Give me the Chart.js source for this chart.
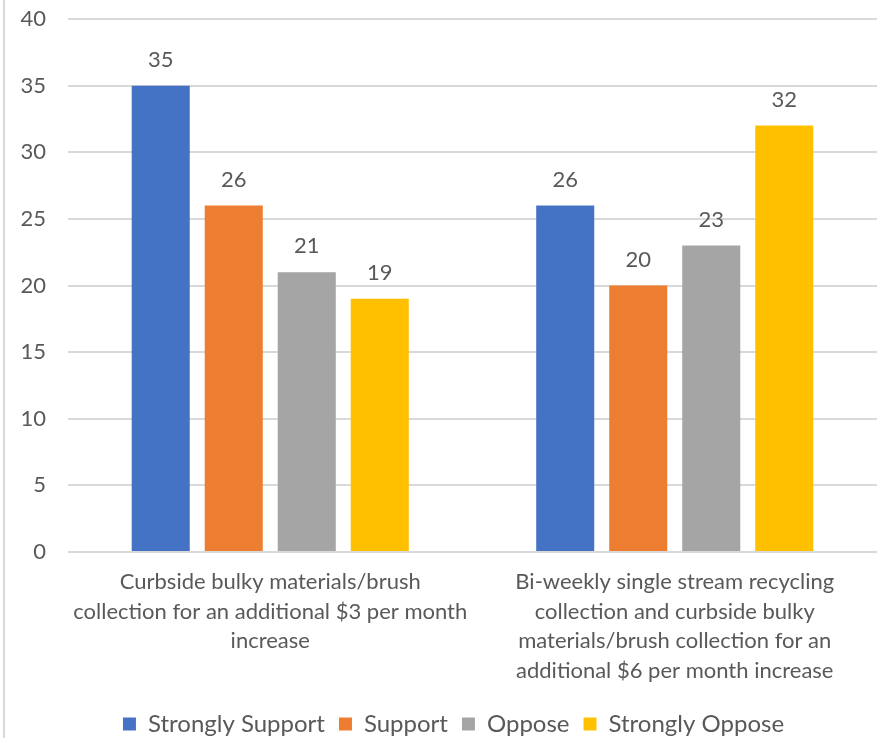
<!DOCTYPE html>
<html>
<head>
<meta charset="utf-8">
<script src="https://cdn.jsdelivr.net/npm/chart.js@4"></script>
<style>
  html, body { margin: 0; padding: 0; background: #ffffff; }
  #wrap { width: 882px; height: 738px; position: relative; }
</style>
</head>
<body>
<div id="wrap"><canvas id="chart" width="882" height="738"></canvas></div>
<script>
// Survey responses for two proposed service options
const categories = [
  ["Curbside bulky materials/brush", "collection for an additional $3 per month", "increase"],
  ["Bi-weekly single stream recycling", "collection and curbside bulky", "materials/brush collection for an", "additional $6 per month increase"]
];
const seriesNames = ["Strongly Support", "Support", "Oppose", "Strongly Oppose"];
const stronglySupport = [35, 26];
const support = [26, 20];
const oppose = [21, 23];
const stronglyOppose = [19, 32];
const yTicks = [0, 5, 10, 15, 20, 25, 30, 35, 40];

const colors = ["#4472C4", "#ED7D31", "#A5A5A5", "#FFC000"];
const seriesValues = [stronglySupport, support, oppose, stronglyOppose];
const FONT = "Lato, 'Open Sans', sans-serif";
const TEXT = "#595959";

// Value labels above each bar
const barValueLabels = {
  id: "barValueLabels",
  afterDatasetsDraw(chart) {
    const ctx = chart.ctx;
    ctx.save();
    ctx.fillStyle = TEXT;
    ctx.font = "22px " + FONT;
    ctx.textAlign = "center";
    ctx.textBaseline = "middle";
    chart.data.datasets.forEach((ds, i) => {
      chart.getDatasetMeta(i).data.forEach((bar, j) => {
        ctx.fillText(String(ds.data[j]), bar.x, bar.y - 26);
      });
    });
    ctx.restore();
  }
};

// Thin frame line down the left edge
const frameEdge = {
  id: "frameEdge",
  beforeDraw(chart) {
    const ctx = chart.ctx;
    ctx.save();
    ctx.fillStyle = "#d9d9d9";
    ctx.fillRect(3, 0, 2, chart.height);
    ctx.restore();
  }
};

// Nudge the legend row slightly right, toward the plot centre
const legendOffset = {
  id: "legendOffset",
  afterLayout(chart) {
    if (chart.legend) {
      chart.legend.left += 15;
      chart.legend.right += 15;
    }
  }
};

new Chart(document.getElementById("chart"), {
  type: "bar",
  data: {
    labels: categories,
    datasets: seriesNames.map((name, i) => ({
      label: name,
      data: seriesValues[i],
      backgroundColor: colors[i],
      categoryPercentage: 0.722,
      barPercentage: 0.795
    }))
  },
  options: {
    responsive: false,
    animation: false,
    layout: { padding: { left: 0, right: 5, top: 19, bottom: -8 } },
    plugins: {
      legend: {
        position: "bottom",
        labels: {
          color: TEXT,
          font: { family: FONT, size: 24 },
          boxWidth: 13,
          boxHeight: 13,
          padding: 14
        }
      },
      tooltip: { enabled: false }
    },
    scales: {
      x: {
        grid: { display: false },
        border: { display: false },
        ticks: {
          color: TEXT,
          font: { family: FONT, size: 22, lineHeight: 1.35 },
          padding: 7,
          maxRotation: 0,
          autoSkip: false
        },
        afterFit(scale) { scale.height = 146; }
      },
      y: {
        min: 0,
        max: 40,
        afterBuildTicks(scale) { scale.ticks = yTicks.map(v => ({ value: v })); },
        grid: { color: "#d9d9d9", lineWidth: 2, drawTicks: false },
        border: { display: false },
        ticks: {
          color: TEXT,
          font: { family: FONT, size: 22 },
          padding: 22
        },
        afterFit(scale) {
          scale.width = 68;
          scale.paddingTop = 0;
          scale.paddingBottom = 0;
        }
      }
    }
  },
  plugins: [barValueLabels, frameEdge, legendOffset]
});
</script>
</body>
</html>
